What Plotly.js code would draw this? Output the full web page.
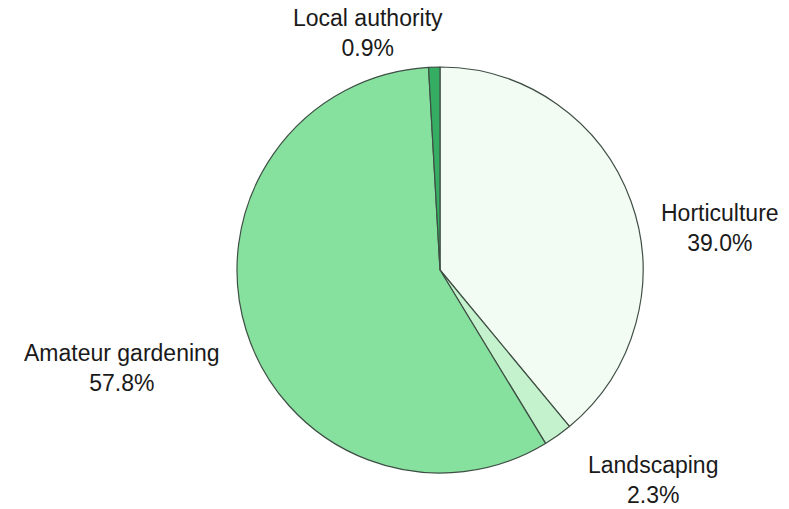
<!DOCTYPE html>
<html>
<head>
<meta charset="utf-8">
<script src="https://cdn.plot.ly/plotly-3.0.1.min.js"></script>
<style>html,body{margin:0;padding:0;background:#fff;}</style>
</head>
<body>
<div id="chart" style="width:789px;height:509px;"></div>
<script>
const categories = ["Horticulture", "Landscaping", "Amateur gardening", "Local authority"];
const shares = [39.0, 2.3, 57.8, 0.9];
const sliceColors = ["#f3fcf3", "#c4f2cc", "#86e09e", "#35ad62"];

// label placement (paper coords) — layout only
const labelPos = [
  {x: 720/789, y: 1 - 228/509},
  {x: 653/789, y: 1 - 480/509},
  {x: 122/789, y: 1 - 368/509},
  {x: 368/789, y: 1 - 33/509}
];

const annotations = categories.map((c, i) => ({
  text: c + "<br>" + shares[i].toFixed(1) + "%",
  x: labelPos[i].x, y: labelPos[i].y,
  xref: "paper", yref: "paper",
  xanchor: "center", yanchor: "middle",
  showarrow: false,
  font: {family: "Liberation Sans, Arial, sans-serif", size: 23, color: "#1a1a1a"}
}));

const data = [{
  type: "pie",
  labels: categories,
  values: shares,
  sort: false,
  direction: "clockwise",
  rotation: 0,
  textinfo: "none",
  hoverinfo: "label+percent",
  marker: {colors: sliceColors, line: {color: "#3f4f45", width: 1.2}},
  domain: {x: [237/789, 643/789], y: [1 - 473/509, 1 - 67/509]}
}];

const layout = {
  width: 789, height: 509,
  margin: {l: 0, r: 0, t: 0, b: 0},
  showlegend: false,
  paper_bgcolor: "#fff",
  annotations: annotations
};

Plotly.newPlot("chart", data, layout, {displayModeBar: false, staticPlot: true});
</script>
</body>
</html>
